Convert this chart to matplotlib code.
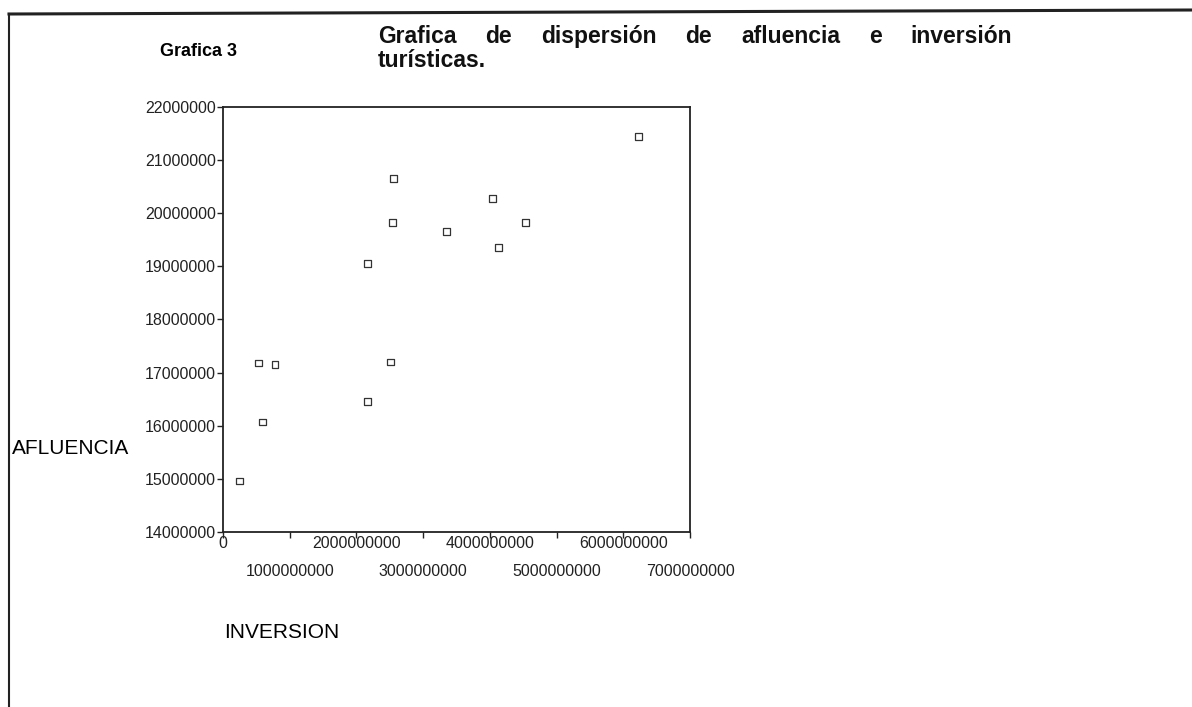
import matplotlib
matplotlib.use("Agg")
import matplotlib.pyplot as plt
from matplotlib.lines import Line2D

plt.rcParams['font.family'] = ['Liberation Sans', 'DejaVu Sans']

# datos (inversion, afluencia)
inversion = [0.25e9, 0.53e9, 0.78e9, 0.59e9, 2.16e9, 2.51e9, 2.16e9,
             2.54e9, 2.55e9, 3.35e9, 4.04e9, 4.13e9, 4.53e9, 6.23e9]
afluencia = [14.96e6, 17.18e6, 17.16e6, 16.07e6, 16.46e6, 17.20e6, 19.06e6,
             19.82e6, 20.66e6, 19.66e6, 20.27e6, 19.36e6, 19.83e6, 21.44e6]

y_ticks = [14000000, 15000000, 16000000, 17000000, 18000000,
           19000000, 20000000, 21000000, 22000000]
x_ticks_par = [0, 2000000000, 4000000000, 6000000000]
x_ticks_impar = [1000000000, 3000000000, 5000000000, 7000000000]

titulo = ["Grafica", "de", "dispersión", "de", "afluencia", "e", "inversión"]

fig = plt.figure(figsize=(11.92, 7.07), dpi=100)
ax = fig.add_axes([0.1871, 0.2475, 0.3918, 0.6012])

ax.scatter(inversion, afluencia, marker='s', s=24, facecolors='none',
           edgecolors='#333333', linewidths=0.9)

ax.set_xlim(0, 7e9)
ax.set_ylim(14e6, 22e6)
ax.set_yticks(y_ticks)
ax.set_yticklabels([str(v) for v in y_ticks])
ax.set_xticks(x_ticks_par)
ax.set_xticklabels([str(v) for v in x_ticks_par])
ax.set_xticks(x_ticks_impar, minor=True)
ax.set_xticklabels([str(v) for v in x_ticks_impar], minor=True)

ax.tick_params(axis='both', which='both', direction='out', length=4,
               width=1, labelsize=11.5, colors='#222222')
ax.tick_params(axis='y', pad=1)
ax.tick_params(axis='x', which='major', pad=-1)
ax.tick_params(axis='x', which='minor', pad=19)
for s in ax.spines.values():
    s.set_linewidth(1.3)
    s.set_color('#222222')

fig.text(160 / 1192, 1 - 52 / 707, "Grafica 3", fontsize=13,
         fontweight='bold', va='center', ha='left')

# titulo justificado entre x=378 y x=1012 px
x0, x1 = 378, 1012
r = fig.canvas.get_renderer()
palabras = []
for w in titulo:
    t = fig.text(0, 1 - 43 / 707, w, fontsize=16.5, fontweight='bold',
                 va='baseline', ha='left', color='#111111')
    palabras.append((t, t.get_window_extent(r).width))
hueco = (x1 - x0 - sum(a for _, a in palabras)) / (len(palabras) - 1)
x = x0
for t, ancho in palabras:
    t.set_x(x / 1192)
    x += ancho + hueco
fig.text(x0 / 1192, 1 - 67 / 707, "turísticas.", fontsize=16.5,
         fontweight='bold', va='baseline', ha='left', color='#111111')

fig.text(12 / 1192, 1 - 448 / 707, "AFLUENCIA", fontsize=15,
         va='center', ha='left')
fig.text(224 / 1192, 1 - 632 / 707, "INVERSION", fontsize=15,
         va='center', ha='left')

# marco de la pagina escaneada
fig.add_artist(Line2D([9 / 1192, 9 / 1192], [0, 1 - 14 / 707],
                      transform=fig.transFigure, color='#222222', lw=1.5))
fig.add_artist(Line2D([9 / 1192, 1], [1 - 14 / 707, 1 - 10 / 707],
                      transform=fig.transFigure, color='#222222', lw=2.2))

fig.savefig("out.png", dpi=100)
